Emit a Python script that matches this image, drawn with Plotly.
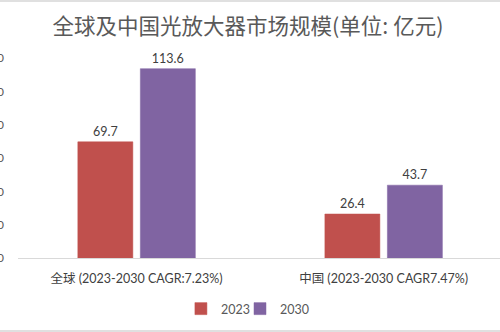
import plotly.graph_objects as go

# Market size of optical amplifiers, unit: 100 million CNY
categories = ["全球 (2023-2030 CAGR:7.23%)", "中国 (2023-2030 CAGR7.47%)"]
series_names = ["2023", "2030"]
values_2023 = [69.7, 26.4]
values_2030 = [113.6, 43.7]
y_ticks = [0, 20, 40, 60, 80, 100, 120]

colors = {"2023": "#C0504D", "2030": "#8064A2"}
legend_ids = {"2023": "legend", "2030": "legend2"}
font_family = "Lato, 'Noto Sans CJK SC', sans-serif"
text_color = "#404040"

fig = go.Figure()
for name, vals in zip(series_names, [values_2023, values_2030]):
    fig.add_trace(go.Bar(
        name=name,
        x=categories,
        y=vals,
        legend=legend_ids[name],
        marker=dict(color=colors[name], line=dict(color=colors[name], width=0.5)),
        text=[f"{v:.1f}" for v in vals],
        textposition="outside",
        textfont=dict(family=font_family, size=12.5, color=text_color),
        cliponaxis=False,
    ))

legend_style = dict(
    orientation="h",
    xanchor="left",
    y=-0.255,
    yanchor="middle",
    font=dict(family=font_family, size=12.5, color="#595959"),
    itemwidth=30,
    bgcolor="rgba(0,0,0,0)",
)

fig.update_layout(
    width=500,
    height=332,
    margin=dict(l=18, r=0, t=58, b=74),
    paper_bgcolor="white",
    plot_bgcolor="white",
    barmode="group",
    bargap=0.494,
    bargroupgap=0.12,
    title=dict(
        text="全球及中国光放大器市场规模(单位: 亿元)",
        x=0.496,
        xref="container",
        xanchor="center",
        y=0.92,
        yanchor="middle",
        font=dict(family="'Noto Sans CJK SC', sans-serif", size=21.5, color="#595959"),
    ),
    xaxis=dict(
        type="category",
        range=[-0.48, 1.471],
        showline=True,
        linecolor="#D9D9D9",
        linewidth=1,
        showgrid=False,
        ticks="",
        ticklabelstandoff=9,
        automargin=False,
        tickfont=dict(family=font_family, size=12.5, color=text_color),
    ),
    yaxis=dict(
        range=[0, 120],
        tickvals=y_ticks,
        showgrid=False,
        zeroline=False,
        showline=False,
        ticks="",
        ticklabelstandoff=13,
        automargin=False,
        tickfont=dict(family=font_family, size=12, color="#595959"),
    ),
    showlegend=True,
    legend=dict(x=0.338, **legend_style),
    legend2=dict(x=0.4606, **legend_style),
    shapes=[
        dict(type="line", xref="paper", yref="paper", x0=-0.05, x1=1.05,
             y0=1.285, y1=1.285, line=dict(color="#E0E0E0", width=2)),
        dict(type="line", xref="paper", yref="paper", x0=-0.05, x1=1.05,
             y0=-0.365, y1=-0.365, line=dict(color="#E0E0E0", width=2)),
    ],
)

fig.write_html("out.html")
